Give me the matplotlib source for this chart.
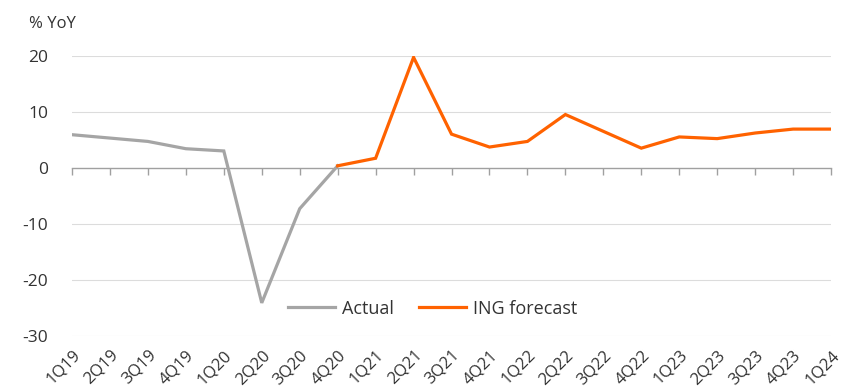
import matplotlib
matplotlib.use("Agg")
import matplotlib.pyplot as plt

quarters = ["1Q19", "2Q19", "3Q19", "4Q19", "1Q20", "2Q20", "3Q20", "4Q20",
            "1Q21", "2Q21", "3Q21", "4Q21", "1Q22", "2Q22", "3Q22", "4Q22",
            "1Q23", "2Q23", "3Q23", "4Q23", "1Q24"]
actual = [5.9, 5.3, 4.7, 3.4, 3.0, -24.1, -7.3, 0.35]
forecast = [0.35, 1.7, 19.7, 6.0, 3.7, 4.7, 9.5, 6.5, 3.5, 5.5, 5.2, 6.2, 6.9, 6.9]
y_ticks = [20, 10, 0, -10, -20, -30]

plt.rcParams["font.family"] = ["Open Sans", "DejaVu Sans"]
text_col = "#333333"

fig = plt.figure(figsize=(8.5, 3.92), dpi=100)
ax = fig.add_axes([0.0847, 0.143, 0.893, 0.715])

x_all = list(range(len(quarters)))
x_act = x_all[:len(actual)]
x_fc = x_all[len(actual) - 1:len(actual) - 1 + len(forecast)]

ax.plot(x_act, actual, color="#A5A5A5", lw=2.3, label="Actual",
        solid_joinstyle="miter", zorder=3)
ax.plot(x_fc, forecast, color="#FF6200", lw=2.3, label="ING forecast",
        solid_joinstyle="miter", zorder=4)

ax.set_xlim(0, len(quarters) - 1)
ax.set_ylim(-30, 20)
ax.set_yticks(y_ticks)
ax.set_yticklabels([str(v) for v in y_ticks], fontsize=12.5, color=text_col)

# light horizontal gridlines, zero line handled by the bottom spine
for v in y_ticks:
    if v != 0:
        ax.axhline(v, color="#DCDCDC", lw=0.8, zorder=1)

for s in ["top", "right", "left"]:
    ax.spines[s].set_visible(False)
ax.spines["bottom"].set_position(("data", 0))
ax.spines["bottom"].set_color("#A0A0A0")
ax.spines["bottom"].set_linewidth(1.0)

ax.set_xticks(x_all)
ax.tick_params(axis="x", direction="out", length=5, color="#A0A0A0",
               width=1.0, labelbottom=False)
ax.tick_params(axis="y", length=0, pad=17)

# category labels along the bottom edge
sec = ax.secondary_xaxis("bottom")
sec.set_xticks(x_all)
sec.set_xticklabels(quarters, rotation=45, ha="right", rotation_mode="anchor",
                    fontsize=12, color=text_col)
sec.tick_params(length=0, pad=8)
sec.spines["bottom"].set_visible(False)

fig.text(0.034, 0.94, "% YoY", fontsize=12, color=text_col, va="center")

leg = ax.legend(loc="center", bbox_to_anchor=(0.475, 0.097), ncol=2,
                frameon=False, fontsize=13, handlelength=2.6,
                columnspacing=1.4, handletextpad=0.4)
for t in leg.get_texts():
    t.set_color(text_col)

fig.savefig("out.png", dpi=100, facecolor="white")
